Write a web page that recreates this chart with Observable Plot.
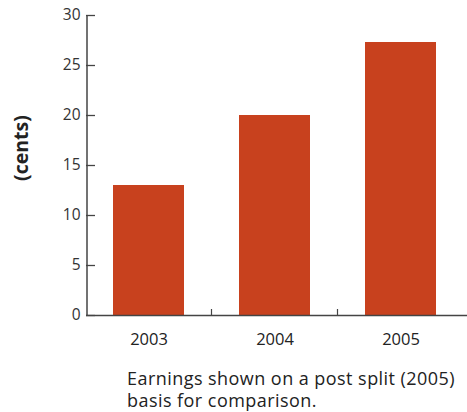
<!DOCTYPE html>
<html>
<head>
<meta charset="utf-8">
<script src="https://cdn.jsdelivr.net/npm/d3@7"></script>
<script src="https://cdn.jsdelivr.net/npm/@observablehq/plot@0.6"></script>
<style>
  html, body { margin: 0; padding: 0; background: #fff; }
  #wrap { position: relative; width: 467px; height: 412px; font-family: "Open Sans", sans-serif; }
  #ylab { position: absolute; left: 20px; top: 148px; transform: translate(-50%, -50%) rotate(-90deg); font-weight: bold; font-size: 19.5px; color: #222; white-space: nowrap; }
  #cap { position: absolute; left: 127px; top: 367px; font-size: 18px; line-height: 22px; color: #222; letter-spacing: 0.45px; white-space: nowrap; }
</style>
</head>
<body>
<div id="wrap">
  <div id="chart"></div>
  <div id="ylab">(cents)</div>
  <div id="cap">Earnings shown on a post split (2005)<br>basis for comparison.</div>
</div>
<script>
const years = ["2003", "2004", "2005"];
const earnings = [13, 20, 27.3];
const yTicks = [0, 5, 10, 15, 20, 25, 30];

const data = years.map((y, i) => ({year: y, value: earnings[i]}));

const W = 467, ML = 86, MR = 3;
const chart = Plot.plot({
  width: W,
  height: 358,
  marginLeft: ML,
  marginRight: MR,
  marginTop: 15,
  marginBottom: 43,
  style: {fontFamily: "Open Sans, sans-serif", background: "#fff"},
  x: {domain: years, paddingInner: 0.433, paddingOuter: 0.205, label: null},
  y: {domain: [0, 30], label: null},
  marks: [
    Plot.barY(data, {x: "year", y: "value", fill: "#c8411e"}),
    Plot.ruleY([0], {stroke: "#444", strokeWidth: 1.5, insetRight: -MR}),
    Plot.ruleX(years.slice(1), {x: d => d, y1: 0, y2: 0.6, dx: -63.5, stroke: "#444", strokeWidth: 1.2}),
    Plot.ruleX([years[0]], {x: d => d, y1: 0, y2: 30, dx: -62, stroke: "#444", strokeWidth: 1.5}),
    Plot.ruleY(yTicks, {y: d => d, insetRight: W - ML - MR - 9, stroke: "#444", strokeWidth: 1.3}),
    Plot.axisY({ticks: yTicks, tickSize: 0, tickPadding: 6, fontSize: 15.5, fill: "#333", label: null}),
    Plot.axisX({tickSize: 0, tickPadding: 18, fontSize: 16.5, fill: "#222", label: null})
  ]
});
document.getElementById("chart").appendChild(chart);
</script>
</body>
</html>
